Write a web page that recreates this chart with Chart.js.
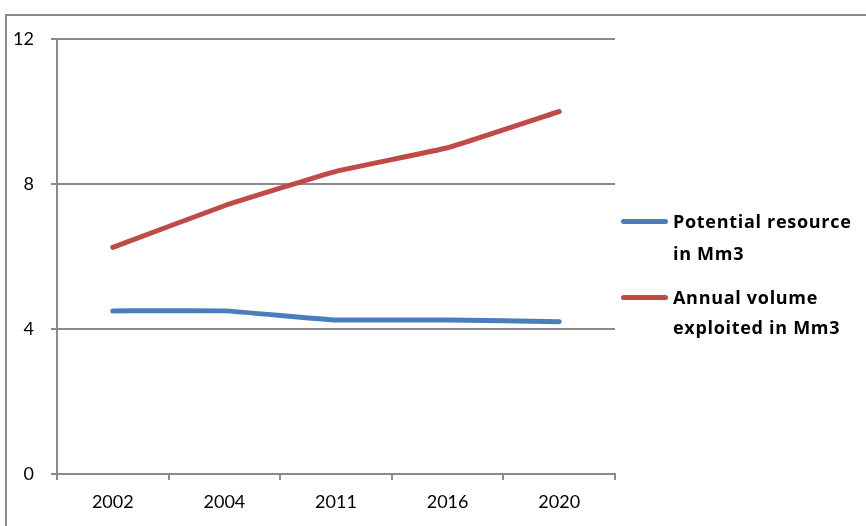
<!DOCTYPE html>
<html>
<head>
<meta charset="utf-8">
<script src="https://cdn.jsdelivr.net/npm/chart.js@4/dist/chart.umd.min.js"></script>
<style>
  html, body { margin: 0; padding: 0; background: #fff; }
  #wrap { position: relative; width: 866px; height: 526px; overflow: hidden; }
  #frame {
    position: absolute; left: 5px; top: 14px; width: 900px; height: 600px;
    border-top: 2px solid #8a8a8a; border-left: 2px solid #8a8a8a;
  }
  canvas { position: absolute; left: 0; top: 0; }
  .leg { position: absolute; left: 621px; font: bold 18px "Open Sans", Lato, sans-serif; color: #000; letter-spacing: 0.7px; }
  .leg .sw { position: absolute; left: 0; width: 47px; height: 5px; border-radius: 3px; }
  .leg .txt { position: absolute; left: 52px; white-space: nowrap; line-height: 24px; }
</style>
</head>
<body>
<div id="wrap">
  <div id="frame"></div>
  <canvas id="chart" width="866" height="526"></canvas>
  <div id="legend"></div>
</div>
<script>
// Values per year, in Mm3
const years = ['2002', '2004', '2011', '2016', '2020'];
const potentialResource = [4.5, 4.5, 4.25, 4.25, 4.2];
const annualExploited = [6.25, 7.4, 8.35, 9.0, 10.0];
const yTicks = [0, 4, 8, 12];

const seriesNames = [['Potential resource', 'in Mm3'], ['Annual volume', 'exploited in Mm3']];
const seriesColors = ['#4a7ebb', '#be4b48'];

const axisGray = '#8a8a8a';
const tickFont = { family: 'Lato, "Open Sans", sans-serif', size: 18 };

new Chart(document.getElementById('chart'), {
  type: 'line',
  data: {
    labels: years,
    datasets: [potentialResource, annualExploited].map((values, i) => ({
      label: seriesNames[i].join(' '),
      data: values,
      borderColor: seriesColors[i],
      borderWidth: 5,
      borderCapStyle: 'round',
      borderJoinStyle: 'round',
      tension: 0.1,
      pointRadius: 0,
      fill: false
    }))
  },
  options: {
    responsive: false,
    animation: false,
    layout: { padding: { left: 0, top: 39, right: 251, bottom: 0 } },
    plugins: {
      legend: { display: false },
      tooltip: { enabled: false }
    },
    scales: {
      x: {
        offset: true,
        grid: { offset: true, drawOnChartArea: false, drawTicks: true, tickLength: 6, color: axisGray, lineWidth: 2 },
        border: { display: true, color: axisGray, width: 2 },
        ticks: { color: '#000', font: tickFont, padding: 11, maxRotation: 0 },
        afterFit: s => { s.height = 52; }
      },
      y: {
        min: 0,
        max: 12,
        afterBuildTicks: s => { s.ticks = yTicks.map(v => ({ value: v })); },
        grid: { color: axisGray, lineWidth: 2, tickLength: 6 },
        border: { display: true, color: axisGray, width: 2 },
        ticks: { color: '#000', font: tickFont, padding: 17 },
        afterFit: s => { s.width = 57; }
      }
    }
  }
});

// Legend on the right, two lines per entry
const legendTops = [[209, 241], [285, 315]];
const legend = document.getElementById('legend');
seriesNames.forEach((lines, i) => {
  const item = document.createElement('div');
  item.className = 'leg';
  item.style.top = '0px';
  const sw = document.createElement('div');
  sw.className = 'sw';
  sw.style.background = seriesColors[i];
  sw.style.top = (legendTops[i][0] + 10) + 'px';
  item.appendChild(sw);
  lines.forEach((t, j) => {
    const span = document.createElement('div');
    span.className = 'txt';
    span.style.top = legendTops[i][j] + 'px';
    span.textContent = t;
    item.appendChild(span);
  });
  legend.appendChild(item);
});
</script>
</body>
</html>
